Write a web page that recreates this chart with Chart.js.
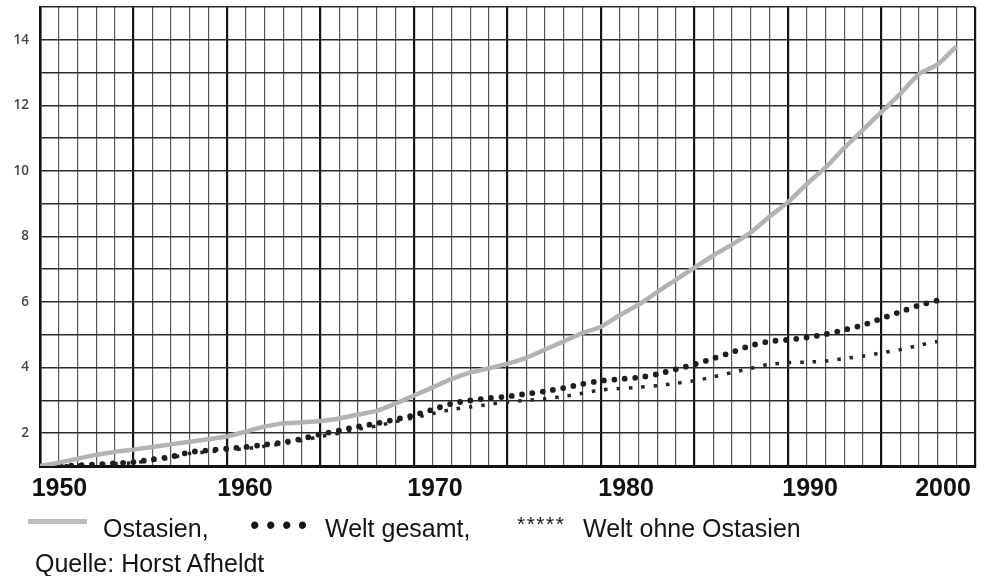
<!DOCTYPE html>
<html>
<head>
<meta charset="utf-8">
<script src="https://cdn.jsdelivr.net/npm/chart.js@4/dist/chart.umd.min.js"></script>
<style>
  html, body { margin: 0; padding: 0; background: #fff; }
  #wrap { position: relative; width: 987px; height: 576px; overflow: hidden; }
  canvas { position: absolute; left: 0; top: 0; }
  .lg { position: absolute; font-family: "Liberation Sans", Arial, sans-serif; font-size: 25px; color: #151515; white-space: nowrap; line-height: 1; }
  #swatch { position: absolute; left: 28px; top: 519px; width: 59px; height: 5px; background: #bdbdbd; }
</style>
</head>
<body>
<div id="wrap">
  <canvas id="c" width="987" height="576"></canvas>
  <div id="swatch"></div>
  <div class="lg" style="left:103px; top:516px;">Ostasien,</div>
  <div class="lg" style="left:250px; top:512px; letter-spacing:6.5px; font-size:27px;">••••</div>
  <div class="lg" style="left:325px; top:516px;">Welt gesamt,</div>
  <div class="lg" style="left:517px; top:513px; letter-spacing:1.5px; font-size:21px;">*****</div>
  <div class="lg" style="left:583px; top:516px;">Welt ohne Ostasien</div>
  <div class="lg" style="left:35px; top:551px;">Quelle: Horst Afheldt</div>
</div>
<script>
// ---- data ----
const yearsOst = [1950,1951,1952,1953,1954,1955,1956,1957,1958,1959,1960,1961,1962,1963,1964,1965,1966,1967,1968,1969,1970,1971,1972,1973,1974,1975,1976,1977,1978,1979,1980,1981,1982,1983,1984,1985,1986,1987,1988,1989,1990,1991,1992,1993,1994,1995,1996,1997,1998,1999];
const ostasien = [1.0,1.1,1.22,1.34,1.43,1.5,1.58,1.66,1.74,1.82,1.9,2.05,2.2,2.3,2.33,2.37,2.45,2.57,2.68,2.9,3.15,3.4,3.65,3.85,3.98,4.12,4.3,4.55,4.8,5.05,5.25,5.6,5.92,6.3,6.68,7.05,7.42,7.75,8.12,8.6,9.05,9.6,10.1,10.7,11.25,11.8,12.35,12.95,13.25,13.8];
const yearsWelt = [1950,1951,1952,1953,1954,1955,1956,1957,1958,1959,1960,1961,1962,1963,1964,1965,1966,1967,1968,1969,1970,1971,1972,1973,1974,1975,1976,1977,1978,1979,1980,1981,1982,1983,1984,1985,1986,1987,1988,1989,1990,1991,1992,1993,1994,1995,1996,1997,1998];
const weltGesamt = [1.0,1.0,1.02,1.05,1.08,1.12,1.2,1.28,1.42,1.48,1.53,1.58,1.65,1.72,1.83,1.97,2.08,2.2,2.3,2.42,2.55,2.72,2.9,3.0,3.07,3.12,3.2,3.28,3.38,3.5,3.6,3.65,3.7,3.8,3.95,4.1,4.28,4.47,4.67,4.8,4.85,4.92,5.02,5.15,5.3,5.5,5.7,5.9,6.05];
const weltOhneOst = [1.0,1.0,1.02,1.04,1.07,1.1,1.17,1.25,1.38,1.43,1.48,1.53,1.6,1.68,1.78,1.9,2.0,2.12,2.22,2.35,2.47,2.6,2.72,2.8,2.88,2.95,3.0,3.05,3.12,3.22,3.32,3.36,3.4,3.45,3.52,3.6,3.72,3.85,3.98,4.1,4.15,4.17,4.2,4.28,4.35,4.45,4.55,4.68,4.8];
const xTickLabels = ["1950","1960","1970","1980","1990","2000"];
const yTickLabels = [2,4,6,8,10,12,14];

// ---- layout (label anchor positions in axis units, as printed) ----
const xLabelAnchor = [1951.04, 1960.96, 1971.12, 1981.34, 1991.18, 1998.29];

const pts = (xs, ys) => xs.map((x, i) => ({x: x, y: ys[i]}));

new Chart(document.getElementById('c'), {
  type: 'line',
  data: {
    datasets: [
      { label: 'Ostasien', data: pts(yearsOst, ostasien), borderColor: '#b3b3b3', borderWidth: 4.5, pointRadius: 0, tension: 0.25, xAxisID: 'x' },
      { label: 'Welt gesamt', data: pts(yearsWelt, weltGesamt), borderColor: '#1e1e1e', borderWidth: 5.8, borderDash: [0, 10.4], borderCapStyle: 'round', pointRadius: 0, tension: 0.25, xAxisID: 'x' },
      { label: 'Welt ohne Ostasien', data: pts(yearsWelt, weltOhneOst), borderColor: '#262626', borderWidth: 3.5, borderDash: [3.5, 8.9], borderCapStyle: 'butt', pointRadius: 0, tension: 0.25, xAxisID: 'x' }
    ]
  },
  options: {
    responsive: false,
    animation: false,
    events: [],
    layout: { padding: { top: 7, right: 12, left: 0, bottom: 0 } },
    plugins: { legend: { display: false }, tooltip: { enabled: false } },
    scales: {
      x: {
        type: 'linear', position: 'bottom', min: 1950, max: 2000, weight: 0,
        ticks: { display: false, stepSize: 1 },
        grid: {
          drawTicks: false,
          color: ctx => (ctx.tick && ctx.tick.value % 5 === 0) ? '#151515' : '#5a5a5a',
          lineWidth: ctx => (ctx.tick && ctx.tick.value % 5 === 0) ? 2.2 : 1.2
        },
        border: { display: true, color: '#111', width: 3 },
        afterFit: s => { s.height = 0; s.paddingLeft = 0; s.paddingRight = 0; }
      },
      xl: {
        type: 'linear', position: 'bottom', min: 1950, max: 2000, weight: 1,
        grid: { display: false, drawTicks: false },
        border: { display: false },
        afterBuildTicks: axis => { axis.ticks = xLabelAnchor.map(v => ({ value: v })); },
        ticks: {
          autoSkip: false, maxRotation: 0, padding: 8,
          font: { family: 'Liberation Sans', size: 25, weight: 'bold' },
          color: '#111',
          callback: (v, i) => xTickLabels[i]
        },
        afterFit: s => { s.height = 110; s.paddingLeft = 0; s.paddingRight = 0; }
      },
      y: {
        min: 1, max: 15,
        ticks: {
          stepSize: 1, padding: 11,
          font: { family: 'Open Sans', size: 13.5, weight: '600' },
          color: '#444',
          callback: v => yTickLabels.includes(v) ? String(v) : ''
        },
        grid: { drawTicks: false, color: '#2a2a2a', lineWidth: 1.6 },
        border: { display: true, color: '#111', width: 2.5 },
        afterFit: s => { s.width = 40; s.paddingTop = 0; s.paddingBottom = 0; }
      }
    }
  }
});
</script>
</body>
</html>
